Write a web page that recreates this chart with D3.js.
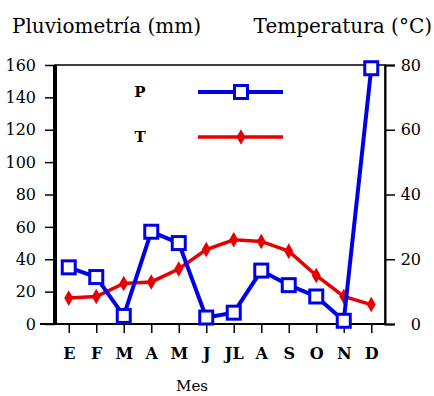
<!DOCTYPE html>
<html>
<head>
<meta charset="utf-8">
<script src="https://cdn.jsdelivr.net/npm/d3@7"></script>
<style>
  body { margin: 0; background: #fff; }
  svg text { font-family: 'DejaVu Serif', 'Liberation Serif', 'Times New Roman', serif; fill: #000; }
</style>
</head>
<body>
<svg id="chart" width="434" height="396"></svg>
<script>
const months = ['E', 'F', 'M', 'A', 'M', 'J', 'Jl', 'A', 'S', 'O', 'N', 'D'];
const monthLabels = ['E', 'F', 'M', 'A', 'M', 'J', 'JL', 'A', 'S', 'O', 'N', 'D'];
const rain = [35, 29, 5, 57, 50, 4, 7, 33, 24, 17, 2, 158];
const temp = [8, 8.5, 12.5, 13, 17, 23, 26, 25.5, 22.5, 15, 8.5, 6];
const rainTicks = [0, 20, 40, 60, 80, 100, 120, 140, 160];
const tempTicks = [0, 20, 40, 60, 80];

const plot = { left: 55, right: 385, top: 65, bottom: 324 };
const blue = '#0000e6', red = '#e60000';
const serif = "'DejaVu Serif', 'Liberation Serif', serif";

const svg = d3.select('#chart');
const idx = d3.range(months.length);

const x = d3.scalePoint().domain(idx).range([plot.left, plot.right]).padding(0.5);
const yP = d3.scaleLinear().domain([0, 160]).range([plot.bottom, plot.top]);
const yT = d3.scaleLinear().domain([0, 80]).range([plot.bottom, plot.top]);

// frame
svg.append('rect')
  .attr('x', plot.left).attr('y', plot.top)
  .attr('width', plot.right - plot.left).attr('height', plot.bottom - plot.top)
  .attr('fill', 'none').attr('stroke', '#000').attr('stroke-width', 1.5);

const leftAxis = svg.append('g')
  .attr('transform', `translate(${plot.left},0)`)
  .call(d3.axisLeft(yP).tickValues(rainTicks).tickSize(10).tickPadding(9));
const rightAxis = svg.append('g')
  .attr('transform', `translate(${plot.right},0)`)
  .call(d3.axisRight(yT).tickValues(tempTicks).tickSize(10).tickPadding(26));
const bottomAxis = svg.append('g')
  .attr('transform', `translate(0,${plot.bottom})`)
  .call(d3.axisBottom(x).tickFormat(i => monthLabels[i]).tickSize(9).tickPadding(15));

[leftAxis, rightAxis, bottomAxis].forEach(g => {
  g.attr('font-family', serif);
  g.selectAll('line').attr('stroke', '#000').attr('stroke-width', 1.5);
  g.select('.domain').attr('stroke', '#000').attr('stroke-width', 2);
  g.selectAll('text').attr('font-family', serif)
    .attr('fill', '#000').attr('font-size', 16);
});
leftAxis.select('.domain').attr('stroke-width', 4).attr('d', `M0,${plot.top}V${plot.bottom}`);
bottomAxis.select('.domain').attr('d', `M${plot.left - 15},0H${plot.right}`);
rightAxis.selectAll('text').attr('text-anchor', 'end').attr('x', 36);
bottomAxis.selectAll('text').attr('font-size', 16).attr('font-weight', 'bold');

// titles
svg.append('text').attr('x', 12).attr('y', 33).attr('font-family', serif)
  .attr('font-size', 20).text('Pluviometría (mm)');
svg.append('text').attr('x', 432).attr('y', 33).attr('text-anchor', 'end').attr('font-family', serif)
  .attr('font-size', 20).text('Temperatura (°C)');
svg.append('text').attr('x', 192).attr('y', 391).attr('text-anchor', 'middle').attr('font-family', serif)
  .attr('font-size', 15).text('Mes');

// temperature line
const lineT = d3.line().x(i => x(i)).y(i => yT(temp[i]));
svg.append('path').datum(idx).attr('d', lineT)
  .attr('fill', 'none').attr('stroke', red).attr('stroke-width', 3.5);
const diamond = d3.symbol().type(d3.symbolDiamond).size(70);
svg.append('g').selectAll('path').data(idx).join('path')
  .attr('d', diamond)
  .attr('transform', i => `translate(${x(i)},${yT(temp[i])})`)
  .attr('fill', red);

// rainfall line
const lineP = d3.line().x(i => x(i)).y(i => yP(rain[i]));
svg.append('path').datum(idx).attr('d', lineP)
  .attr('fill', 'none').attr('stroke', blue).attr('stroke-width', 4);
svg.append('g').selectAll('rect').data(idx).join('rect')
  .attr('x', i => x(i) - 6.5).attr('y', i => yP(rain[i]) - 6.5)
  .attr('width', 13).attr('height', 13)
  .attr('fill', '#fff').attr('stroke', blue).attr('stroke-width', 3);

// legend
const legend = [
  { label: 'P', color: blue, y: 92, mark: 'square' },
  { label: 'T', color: red, y: 137, mark: 'diamond' }
];
const lg = svg.append('g').selectAll('g').data(legend).join('g');
lg.append('text').attr('x', 140).attr('y', d => d.y + 5).attr('text-anchor', 'middle')
  .attr('font-family', "'DejaVu Sans Mono', 'Liberation Mono', monospace").attr('font-weight', 'bold')
  .attr('font-size', 15).text(d => d.label);
lg.append('line').attr('x1', 198).attr('x2', 283)
  .attr('y1', d => d.y).attr('y2', d => d.y)
  .attr('stroke', d => d.color).attr('stroke-width', d => d.mark === 'square' ? 4 : 3.5);
lg.filter(d => d.mark === 'square').append('rect')
  .attr('x', 241 - 6.5).attr('y', d => d.y - 6.5).attr('width', 13).attr('height', 13)
  .attr('fill', '#fff').attr('stroke', d => d.color).attr('stroke-width', 3);
lg.filter(d => d.mark === 'diamond').append('path')
  .attr('d', diamond).attr('transform', d => `translate(241,${d.y})`)
  .attr('fill', d => d.color);
</script>
</body>
</html>
